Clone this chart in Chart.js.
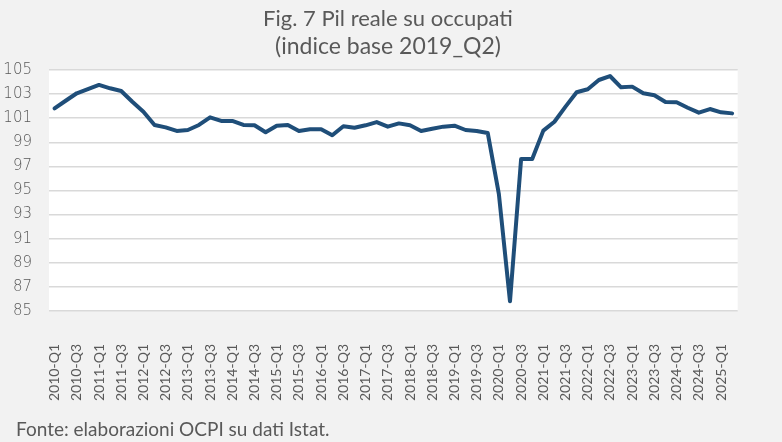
<!DOCTYPE html>
<html>
<head>
<meta charset="utf-8">
<script src="https://cdn.jsdelivr.net/npm/chart.js@4/dist/chart.umd.min.js"></script>
<style>
  html, body { margin: 0; padding: 0; background: #f2f2f2; }
  #wrap { position: relative; width: 782px; height: 442px; background: #f2f2f2; }
  #c { position: absolute; left: 0; top: 0; }
  #source { position: absolute; left: 16px; top: 417px; font-family: Lato, "Open Sans", sans-serif; font-size: 19px; line-height: normal; color: #595959; white-space: nowrap; }
</style>
</head>
<body>
<div id="wrap">
  <canvas id="c" width="782" height="442"></canvas>
  <div id="source">Fonte: elaborazioni OCPI su dati Istat.</div>
</div>
<script>
const titleText = "Fig. 7 Pil reale su occupati";
const subtitleText = "(indice base 2019_Q2)";

const categories = [
  "2010-Q1","2010-Q2","2010-Q3","2010-Q4",
  "2011-Q1","2011-Q2","2011-Q3","2011-Q4",
  "2012-Q1","2012-Q2","2012-Q3","2012-Q4",
  "2013-Q1","2013-Q2","2013-Q3","2013-Q4",
  "2014-Q1","2014-Q2","2014-Q3","2014-Q4",
  "2015-Q1","2015-Q2","2015-Q3","2015-Q4",
  "2016-Q1","2016-Q2","2016-Q3","2016-Q4",
  "2017-Q1","2017-Q2","2017-Q3","2017-Q4",
  "2018-Q1","2018-Q2","2018-Q3","2018-Q4",
  "2019-Q1","2019-Q2","2019-Q3","2019-Q4",
  "2020-Q1","2020-Q2","2020-Q3","2020-Q4",
  "2021-Q1","2021-Q2","2021-Q3","2021-Q4",
  "2022-Q1","2022-Q2","2022-Q3","2022-Q4",
  "2023-Q1","2023-Q2","2023-Q3","2023-Q4",
  "2024-Q1","2024-Q2","2024-Q3","2024-Q4",
  "2025-Q1","2025-Q2"
];

const pilOccupati = [
  101.82,102.45,103.07,103.42,103.76,103.48,103.26,102.37,101.54,100.44,
  100.24,99.94,100.02,100.44,101.07,100.77,100.77,100.44,100.41,99.83,
  100.38,100.44,99.94,100.08,100.08,99.58,100.33,100.21,100.41,100.68,
  100.30,100.57,100.41,99.94,100.13,100.30,100.38,100.02,99.94,99.77,
  94.70,85.80,97.61,97.61,99.97,100.71,101.96,103.15,103.40,104.17,
  104.50,103.56,103.62,103.07,102.90,102.34,102.32,101.87,101.46,101.76,
  101.49,101.40
];

const yMin = 85, yMax = 105, yStep = 2;

const plotBg = {
  id: 'plotBg',
  beforeDraw(chart) {
    const { ctx, chartArea: a } = chart;
    ctx.save();
    ctx.fillStyle = '#ffffff';
    ctx.fillRect(a.left, a.top, a.right - a.left, a.bottom - a.top);
    ctx.restore();
  }
};

const textColor = '#595959';
const fontFam = 'Lato, "Open Sans", sans-serif';

new Chart(document.getElementById('c'), {
  type: 'line',
  data: {
    labels: categories,
    datasets: [{
      data: pilOccupati,
      borderColor: '#1F4E79',
      borderWidth: 4,
      pointRadius: 0,
      pointHoverRadius: 0,
      tension: 0,
      borderJoinStyle: 'round',
      borderCapStyle: 'round',
      fill: false
    }]
  },
  options: {
    responsive: false,
    animation: false,
    layout: { padding: { left: 0, right: 6, top: 0, bottom: 0 } },
    plugins: {
      legend: { display: false },
      tooltip: { enabled: false },
      title: {
        display: true,
        text: titleText,
        color: textColor,
        font: { family: fontFam, size: 22, weight: 'normal', lineHeight: 1.2 },
        padding: { top: 6, bottom: 0 }
      },
      subtitle: {
        display: true,
        text: subtitleText,
        color: textColor,
        font: { family: fontFam, size: 23, weight: 'normal', lineHeight: 1.2 },
        padding: { top: 0, bottom: 10 }
      }
    },
    scales: {
      x: {
        type: 'category',
        offset: true,
        grid: { display: false, drawTicks: false, tickLength: 0 },
        border: { display: false },
        ticks: {
          autoSkip: false,
          minRotation: 90,
          maxRotation: 90,
          padding: 33,
          color: textColor,
          font: { family: fontFam, size: 14 },
          callback: function(v, i) { return i % 2 === 0 ? this.getLabelForValue(v) : ''; }
        },
        afterFit(scale) { scale.height = 131; }
      },
      y: {
        min: yMin,
        max: yMax,
        grid: { color: '#d9d9d9', lineWidth: 1.5, drawTicks: false, tickLength: 0 },
        border: { display: false },
        ticks: {
          stepSize: yStep,
          padding: 17,
          color: textColor,
          font: { family: '"DejaVu Sans", sans-serif', size: 15, weight: 200 }
        },
        afterFit(scale) { scale.width = 49; }
      }
    }
  },
  plugins: [plotBg]
});
</script>
</body>
</html>
